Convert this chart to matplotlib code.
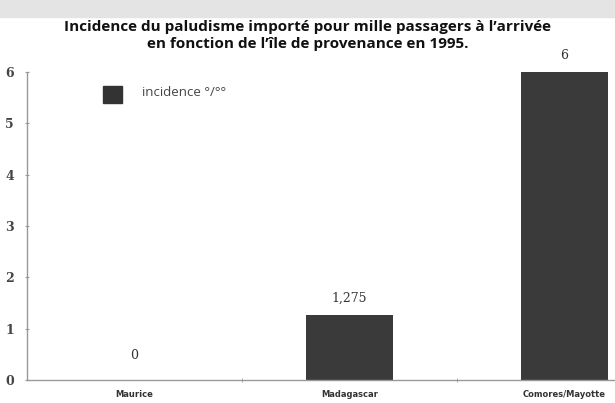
import matplotlib.pyplot as plt
from matplotlib.patches import Rectangle

# data
categories = ["Maurice", "Madagascar", "Comores/Mayotte"]
incidence = [0, 1.275, 6]
value_labels = ["0", "1,275", "6"]
y_ticks = [0, 1, 2, 3, 4, 5, 6]

W, H = 615, 403
fig = plt.figure(figsize=(W / 100, H / 100), dpi=100)

# grey band at the top
fig.patches.append(Rectangle((0, 1 - 17 / H), 1, 17 / H, transform=fig.transFigure,
                             color="#e4e4e4", zorder=0))

fig.text(0.5, 1 - 27 / H, "Incidence du paludisme importé pour mille passagers à l’arrivée",
         ha="center", va="center", fontsize=11, fontweight="bold", family="Open Sans", color="#111")
fig.text(0.5, 1 - 44 / H, "en fonction de l’île de provenance en 1995.",
         ha="center", va="center", fontsize=11, fontweight="bold", family="Open Sans", color="#111")

# axes extend past the right edge (the source image is cropped)
left, right = 27, 672
bottom, top = 380, 72
ax = fig.add_axes([left / W, 1 - bottom / H, (right - left) / W, (bottom - top) / H])

x = list(range(len(categories)))
ax.bar(x, incidence, width=0.405, color="#3a3a3a", zorder=2)
for xi, v, lab in zip(x, incidence, value_labels):
    ax.annotate(lab, (xi, v), xytext=(0, 7 if v > 0 else 13), textcoords="offset points",
                ha="center", va="bottom", fontsize=9, family="DejaVu Serif", color="#333")

ax.set_xlim(-0.5, 2.5)
ax.set_ylim(0, 6)
ax.set_yticks(y_ticks)
ax.set_yticklabels([str(t) for t in y_ticks], family="DejaVu Serif", fontsize=9,
                   fontweight="bold", color="#444")
ax.set_xticks(x)
ax.set_xticklabels(categories, fontsize=6, fontweight="bold", color="#333")
ax.set_xticks([0.5, 1.5], minor=True)
ax.tick_params(axis="x", which="major", length=0, pad=7)
ax.tick_params(axis="x", which="minor", length=3, color="#999", direction="inout")
ax.tick_params(axis="y", length=3, color="#999", direction="inout", pad=8)

for s in ["top", "right"]:
    ax.spines[s].set_visible(False)
for s in ["left", "bottom"]:
    ax.spines[s].set_color("#999")
    ax.spines[s].set_linewidth(1)

# legend
fig.patches.append(Rectangle((103 / W, 1 - 103 / H), 19 / W, 17 / H, transform=fig.transFigure,
                             color="#333", zorder=3))
fig.text(142 / W, 1 - 93 / H, "incidence °/°°", ha="left", va="center", fontsize=9.5,
         family="Open Sans", color="#444")

fig.savefig("out.png", dpi=100)
